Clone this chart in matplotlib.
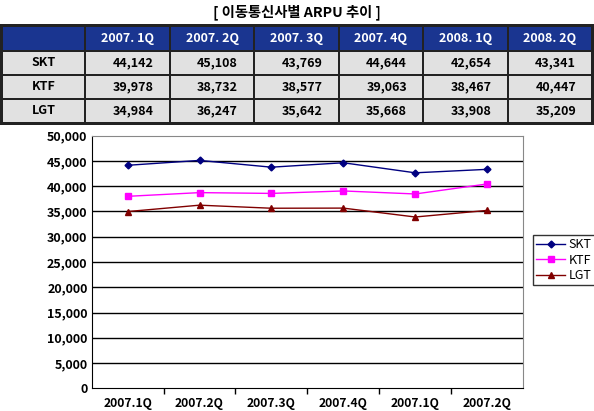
import matplotlib
matplotlib.use("Agg")
import matplotlib.pyplot as plt
from matplotlib.patches import Rectangle
from matplotlib.ticker import FuncFormatter, FixedLocator

plt.rcParams['font.family'] = ['Noto Sans CJK KR', 'DejaVu Sans']

# ---- data ----
title = "[ 이동통신사별 ARPU 추이 ]"
table_cols = ["2007. 1Q", "2007. 2Q", "2007. 3Q", "2007. 4Q", "2008. 1Q", "2008. 2Q"]
carriers = ["SKT", "KTF", "LGT"]
table_skt = [44142, 45108, 43769, 44644, 42654, 43341]
table_ktf = [39978, 38732, 38577, 39063, 38467, 40447]
table_lgt = [34984, 36247, 35642, 35668, 33908, 35209]

chart_labels = ["2007.1Q", "2007.2Q", "2007.3Q", "2007.4Q", "2007.1Q", "2007.2Q"]
chart_skt = [44142, 45108, 43769, 44644, 42654, 43341]
chart_ktf = [38000, 38732, 38577, 39063, 38467, 40447]
chart_lgt = [34984, 36247, 35642, 35668, 33908, 35209]

W, H = 594, 411
fig = plt.figure(figsize=(W / 100, H / 100), dpi=100)

def px(x, y):
    return x / W, 1 - y / H

# ---- title ----
fig.text(*px(297, 12), title, ha='center', va='center', fontsize=10.3, fontweight='bold')

# ---- table ----
col_edges = [2, 85, 170, 254, 339, 423, 508, 592]
row_edges = [26, 51, 75, 99, 123]
header_color = '#1a3590'
body_color = '#e1e1e1'
tf = fig.transFigure
fig.patches.append(Rectangle(px(0, 125), 594 / W, 101 / H, transform=tf,
                             facecolor='#222222', edgecolor='none'))
for r in range(4):
    for c in range(7):
        x0, x1 = col_edges[c], col_edges[c + 1]
        y0, y1 = row_edges[r], row_edges[r + 1]
        fc = header_color if r == 0 else body_color
        fig.patches.append(Rectangle(px(x0 + 1, y1 - 1), (x1 - x0 - 2) / W, (y1 - y0 - 2) / H,
                                     transform=tf, facecolor=fc, edgecolor='none'))
for c, lab in enumerate(table_cols):
    cx = (col_edges[c + 1] + col_edges[c + 2]) / 2
    fig.text(*px(cx, (row_edges[0] + row_edges[1]) / 2), lab, ha='center', va='center',
             color='white', fontsize=9, fontweight='bold')
rows = [table_skt, table_ktf, table_lgt]
for r, (name, vals) in enumerate(zip(carriers, rows)):
    cy = (row_edges[r + 1] + row_edges[r + 2]) / 2
    fig.text(*px((col_edges[0] + col_edges[1]) / 2, cy), name, ha='center', va='center',
             fontsize=9, fontweight='bold')
    for c, v in enumerate(vals):
        fig.text(*px(col_edges[c + 2] - 16, cy), f"{v:,}", ha='right', va='center',
                 fontsize=9, fontweight='bold')

# ---- chart ----
left, right, top, bottom = 91.7, 523, 135.7, 388.3
ax = fig.add_axes([left / W, 1 - bottom / H, (right - left) / W, (bottom - top) / H])
x = list(range(len(chart_labels)))
l1, = ax.plot(x, chart_skt, color='#000080', marker='D', markersize=3.5, lw=1, label='SKT')
l2, = ax.plot(x, chart_ktf, color='#ff00ff', marker='s', markersize=5, lw=1, label='KTF')
l3, = ax.plot(x, chart_lgt, color='#800000', marker='^', markersize=5, lw=1, label='LGT')
ax.set_xlim(-0.5, len(x) - 0.5)
ax.set_ylim(0, 50000)
ax.set_yticks(range(0, 50001, 5000))
ax.yaxis.set_major_formatter(FuncFormatter(lambda v, p: f"{int(v):,}"))
ax.set_xticks(x)
ax.set_xticklabels(chart_labels)
ax.xaxis.set_minor_locator(FixedLocator([i + 0.5 for i in range(len(x) - 1)]))
ax.tick_params(axis='x', which='major', length=0, pad=6)
ax.tick_params(axis='x', which='minor', length=4, width=1, color='black', direction='out')
ax.tick_params(axis='y', length=0, pad=3)
for lab in ax.get_xticklabels():
    lab.set_fontsize(8.7)
    lab.set_fontweight('bold')
for lab in ax.get_yticklabels():
    lab.set_fontsize(9)
    lab.set_fontweight('bold')
for yv in range(5000, 50000, 5000):
    ax.axhline(yv, color='black', lw=1, zorder=0.5)
ax.spines['left'].set_color('black')
ax.spines['bottom'].set_color('black')
ax.spines['top'].set_color('#888888')
ax.spines['right'].set_color('#888888')

leg = fig.legend(handles=[l1, l2, l3], loc='upper left', bbox_to_anchor=px(533, 235),
                 frameon=True, fancybox=False, edgecolor='black', fontsize=9,
                 handlelength=2.3, handletextpad=0.3, borderpad=0.25, labelspacing=0.2,
                 borderaxespad=0)
leg.get_frame().set_linewidth(1)

fig.savefig("out.png", dpi=100)
